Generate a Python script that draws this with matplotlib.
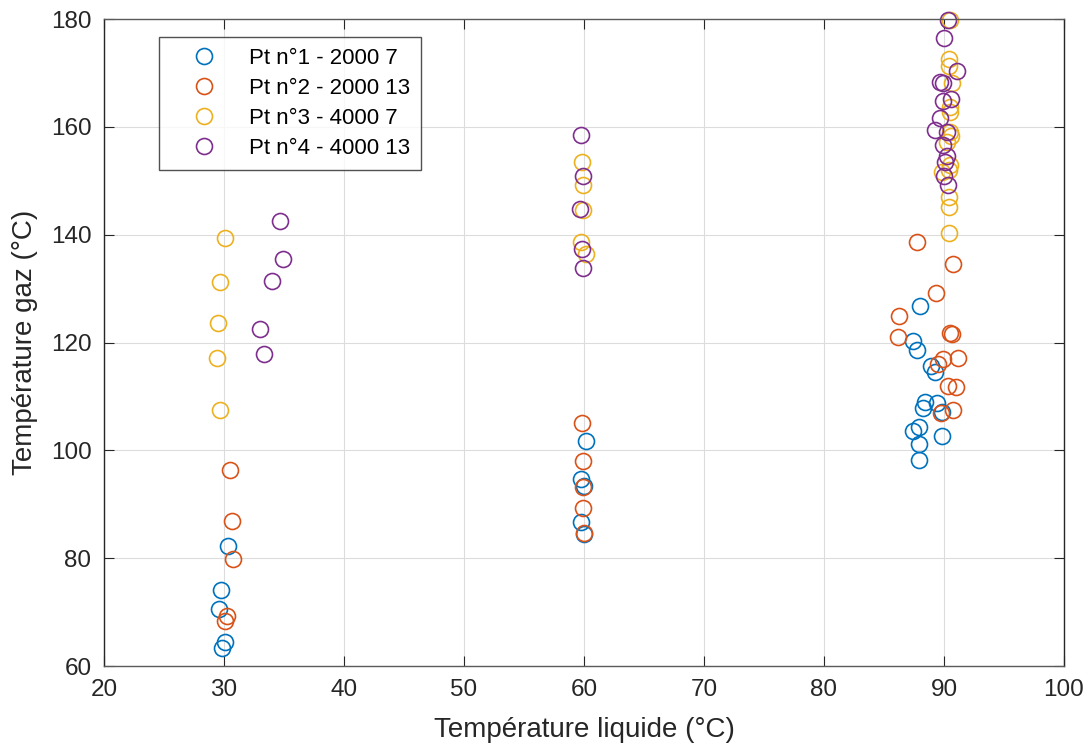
import matplotlib.pyplot as plt

# Pt n°1 - 2000 7
x1 = [30.36, 29.75, 29.56, 30.08, 29.86,
      60.17, 59.72, 60.03, 59.78, 60.03,
      88.0, 87.44, 87.72, 88.92, 89.28, 88.44, 88.28, 89.44, 89.83, 87.39, 87.92, 89.86, 87.89, 87.94]
y1 = [82.3, 74.1, 70.6, 64.4, 63.3,
      101.8, 94.7, 93.4, 86.7, 84.4,
      126.8, 120.3, 118.7, 115.6, 114.6, 109.0, 107.8, 108.7, 107.2, 103.6, 104.3, 102.7, 101.1, 98.3]

# Pt n°2 - 2000 13
x2 = [30.47, 30.64, 30.75, 30.22, 30.06,
      59.83, 59.89, 59.94, 59.94, 59.97,
      87.78, 90.78, 89.31, 86.22, 86.14, 90.5, 90.64, 91.19, 89.94, 89.53, 90.31, 91.0, 90.72, 89.72]
y2 = [96.4, 86.9, 79.8, 69.2, 68.4,
      105.0, 98.0, 93.2, 89.3, 84.6,
      138.7, 134.5, 129.1, 124.9, 121.1, 121.7, 121.6, 117.1, 116.9, 116.1, 111.9, 111.8, 107.5, 107.0]

# Pt n°3 - 4000 7
x3 = [30.08, 29.7, 29.53, 29.42, 29.64,
      59.8, 59.94, 59.92, 59.78, 60.17,
      90.5, 90.44, 90.42, 90.64, 90.5, 90.5, 90.5, 90.56, 90.22, 90.5, 89.8, 90.39, 90.44, 90.42, 90.44]
y3 = [139.3, 131.2, 123.7, 117.2, 107.4,
      153.5, 149.3, 144.6, 138.6, 136.5,
      179.8, 172.5, 171.2, 168.1, 163.7, 162.8, 159.1, 158.3, 157.2, 152.9, 151.7, 152.0, 147.0, 145.1, 140.3]

# Pt n°4 - 4000 13
x4 = [34.67, 34.94, 34.0, 33.03, 33.33,
      59.78, 59.9, 59.7, 59.86, 59.9,
      90.3, 90.0, 91.1, 89.67, 89.89, 90.56, 89.92, 89.67, 89.28, 90.28, 89.89, 90.22, 90.06, 90.03, 90.3]
y4 = [142.6, 135.5, 131.4, 122.5, 117.9,
      158.5, 150.8, 144.8, 137.3, 133.9,
      179.8, 176.4, 170.4, 168.4, 168.1, 165.1, 164.8, 161.6, 159.4, 159.1, 156.6, 154.6, 153.5, 150.8, 149.2]

labels = ["Pt n°1 - 2000 7", "Pt n°2 - 2000 13", "Pt n°3 - 4000 7", "Pt n°4 - 4000 13"]
colors = ["#0072BD", "#D95319", "#EDB120", "#7E2F8E"]

plt.rcParams['font.family'] = ['Liberation Sans', 'DejaVu Sans']

fig = plt.figure(figsize=(10.9, 7.49), dpi=100)
ax = fig.add_axes([0.0954, 0.1108, 0.8807, 0.8638])

for xs, ys, c, lab in zip([x1, x2, x3, x4], [y1, y2, y3, y4], colors, labels):
    ax.plot(xs, ys, 'o', mfc='none', mec=c, ms=11.5, mew=1.2, label=lab, clip_on=False)

ax.set_xlim(20, 100)
ax.set_ylim(60, 180)
ax.set_xticks(range(20, 101, 10))
ax.set_yticks(range(60, 181, 20))
ax.grid(True, color='#dcdcdc', linewidth=0.8)
ax.set_axisbelow(True)
ax.tick_params(direction='in', top=True, right=True, labelsize=17.5, colors='#262626',
               length=7, pad=9)
for side, s in ax.spines.items():
    s.set_color('#262626' if side in ('left', 'right') else '#5a5a5a')
    s.set_linewidth(1.0)

ax.set_xlabel("Température liquide (°C)", fontsize=20, color='#262626', labelpad=12)
ax.set_ylabel("Température gaz (°C)", fontsize=20, color='#262626', labelpad=9)

leg = ax.legend(loc='upper left', bbox_to_anchor=(0.057, 0.972), borderaxespad=0,
                fontsize=16, frameon=True, fancybox=False, edgecolor='#262626',
                handlelength=3.1, handletextpad=0.46, labelspacing=0.4, borderpad=0.5)
leg.get_frame().set_linewidth(1.0)

plt.savefig("out.png", dpi=100)
